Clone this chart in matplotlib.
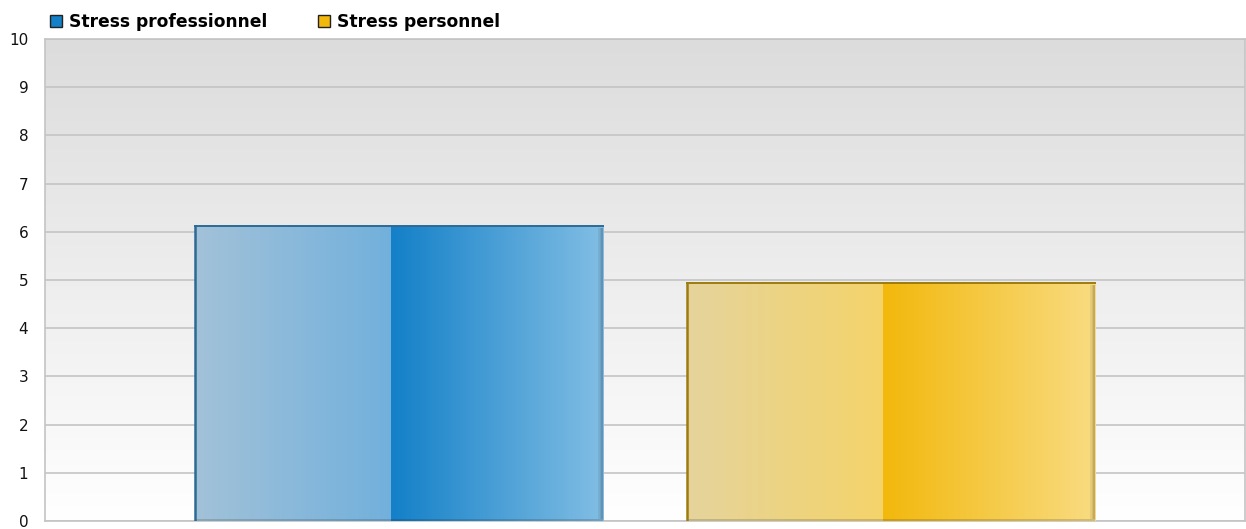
import numpy as np
import matplotlib
matplotlib.use("Agg")
import matplotlib.pyplot as plt
from matplotlib.colors import LinearSegmentedColormap
from matplotlib.patches import Rectangle

series = ["Stress professionnel", "Stress personnel"]
values = [6.12, 4.94]
colors = ["#1380c8", "#f2b80c"]
yticks = list(range(0, 11))

plt.rcParams['font.family'] = ['DejaVu Sans']

fig = plt.figure(figsize=(12.46, 5.29), dpi=100)
ax = fig.add_axes([45/1246, 8/529, 1200/1246, 482/529])

# background gradient (white at bottom -> light grey at top)
bg_cmap = LinearSegmentedColormap.from_list("bg", ["#ffffff", "#dcdcdc"])
ax.imshow(np.linspace(1, 0, 256).reshape(-1, 1), extent=(-0.5, 0.5, 0, 10),
          aspect='auto', cmap=bg_cmap, origin='upper', zorder=0, vmin=0, vmax=1)

for t in yticks:
    ax.axhline(t, color="#c4c4c4", lw=1.2, zorder=1)

width = 0.34
offsets = [-0.205, 0.205]

light_pairs = [("#a2c2d8", "#72b0dc"), ("#e5d39c", "#f4d46a")]
dark_pairs = [("#1380c8", "#82bee4"), ("#f2b80c", "#f9dc82")]
edge_cols = ["#2d6a94", "#9c7c10"]

for i, (v, off) in enumerate(zip(values, offsets)):
    bars = ax.bar(off, v, width=width, color="none", zorder=2)
    r = bars[0]
    x0 = r.get_x(); w = r.get_width(); h = r.get_height()
    xm = x0 + w * 0.48
    grad = np.linspace(0, 1, 256).reshape(1, -1)
    c1 = LinearSegmentedColormap.from_list("l%d" % i, list(light_pairs[i]))
    c2 = LinearSegmentedColormap.from_list("d%d" % i, list(dark_pairs[i]))
    ax.imshow(grad, extent=(x0, xm, 0, h), aspect='auto', cmap=c1, zorder=3)
    ax.imshow(grad, extent=(xm, x0 + w, 0, h), aspect='auto', cmap=c2, zorder=3)
    # soft shadow on right edge
    for k, a in enumerate([0.22, 0.14, 0.07]):
        ax.add_patch(Rectangle((x0 + w - 0.0013 * (k + 1), 0.04), 0.0013, h - 0.08,
                               color="#000000", alpha=a, lw=0, zorder=4))
    # bottom shading
    ax.add_patch(Rectangle((x0, 0), w, 0.05, color="#000000",
                           alpha=0.15, lw=0, zorder=4))
    ax.plot([x0, x0], [0, h], color=edge_cols[i], lw=1.8, zorder=5)
    ax.plot([x0, x0 + w], [h, h], color=edge_cols[i], lw=1.4, zorder=5)

ax.set_xlim(-0.5, 0.5)
ax.set_ylim(0, 10)
ax.set_xticks([])
ax.set_yticks(yticks)
ax.set_yticklabels([str(t) for t in yticks], fontsize=11, color="#111111")
ax.tick_params(axis='y', length=0, pad=12)
for s in ax.spines.values():
    s.set_color("#c4c4c4")
    s.set_linewidth(1.2)

# legend
handles = [Rectangle((0, 0), 1, 1, facecolor=c, edgecolor="#222222", lw=1.0)
           for c in colors]
leg = fig.legend(handles, series, loc='center left',
                 bbox_to_anchor=(50/1246, 1 - 22/529), ncol=2, frameon=False,
                 prop={'weight': 'bold', 'size': 12.3},
                 handlelength=0.70, handleheight=0.70, handletextpad=0.41,
                 columnspacing=2.95, borderaxespad=0, borderpad=0)

fig.savefig("out.png", dpi=100)
